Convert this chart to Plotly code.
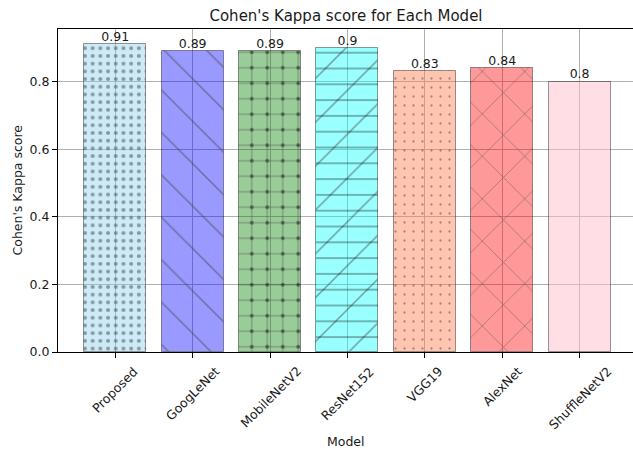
import plotly.graph_objects as go

# Cohen's Kappa score per model
models = ["Proposed", "GoogLeNet", "MobileNetV2", "ResNet152", "VGG19", "AlexNet", "ShuffleNetV2"]
kappa = [0.91, 0.89, 0.89, 0.90, 0.83, 0.84, 0.80]
y_ticks = [0.0, 0.2, 0.4, 0.6, 0.8]

# per-bar fills (semi-transparent) and hatch styles
fill_colors = [
    "rgba(135,206,235,0.42)",
    "rgba(0,0,255,0.40)",
    "rgba(0,128,0,0.40)",
    "rgba(0,255,255,0.40)",
    "rgba(255,127,80,0.45)",
    "rgba(255,0,0,0.40)",
    "rgba(255,192,203,0.50)",
]
hatch_main = [".", "\\", "+", "/", ".", "x", ""]
hatch_main_size = [7.7, 30, 15.5, 31, 9, 30, 8]
hatch_main_solid = [0.22, 0.05, 0.12, 0.05, 0.05, 0.05, 0.1]
hatch_extra = ["", "", ".", "-", "", "", ""]
hatch_extra_size = [8, 8, 15.5, 15.8, 8, 8, 8]
hatch_extra_solid = [0.1, 0.1, 0.045, 0.08, 0.1, 0.1, 0.1]

EDGE = "rgba(0,0,0,0.4)"
HATCH = "rgba(0,0,0,0.5)"
FONT = "DejaVu Sans"
TXT = "#1a1a1a"

fig = go.Figure()

fig.add_trace(go.Bar(
    x=models, y=kappa, width=0.8,
    marker=dict(
        color=fill_colors,
        line=dict(color=EDGE, width=1),
        pattern=dict(
            shape=hatch_main, size=hatch_main_size, solidity=hatch_main_solid,
            fillmode="overlay", fgcolor=HATCH,
        ),
    ),
    hoverinfo="skip",
))

# second hatch layer for the combined hatches
fig.add_trace(go.Bar(
    x=models, y=kappa, width=0.8,
    marker=dict(
        color=["rgba(0,0,0,0.45)" if h else "rgba(0,0,0,0)" for h in hatch_extra],
        line=dict(width=0),
        pattern=dict(
            shape=hatch_extra, size=hatch_extra_size, solidity=hatch_extra_solid,
            fillmode="replace",
        ),
    ),
    hoverinfo="skip",
))

# value labels on top of the bars
fig.add_trace(go.Scatter(
    x=models, y=kappa, mode="text",
    text=[f"{v:g}" for v in kappa],
    textposition="top center",
    textfont=dict(family=FONT, size=12.5, color=TXT),
    cliponaxis=False, hoverinfo="skip",
))

# rotated category labels
for m in models:
    fig.add_annotation(
        x=m, y=0, xref="x", yref="paper",
        text=m, textangle=-45, showarrow=False,
        xanchor="center", yanchor="top", yshift=-9,
        font=dict(family=FONT, size=12.5, color=TXT),
    )

fig.add_annotation(
    x=0.5, y=0, xref="paper", yref="paper", text="Model",
    showarrow=False, xanchor="center", yanchor="middle", yshift=-89,
    font=dict(family=FONT, size=12.5, color=TXT),
)
fig.add_annotation(
    x=0, y=0.5, xref="paper", yref="paper", text="Cohen's Kappa score",
    textangle=-90, showarrow=False, xanchor="center", yanchor="middle", xshift=-41,
    font=dict(family=FONT, size=12.5, color=TXT),
)

fig.update_layout(
    width=633, height=450,
    margin=dict(l=58, r=0, t=29, b=98),
    paper_bgcolor="white", plot_bgcolor="white",
    barmode="overlay", bargap=0, showlegend=False,
    title=dict(
        text="Cohen's Kappa score for Each Model",
        x=(346 / 633), xanchor="center", y=1 - 16 / 450, yanchor="middle",
        font=dict(family=FONT, size=15, color=TXT),
    ),
    font=dict(family=FONT, size=12.5, color=TXT),
)

fig.update_xaxes(
    range=[-0.74, 6.69], showticklabels=False,
    ticks="outside", ticklen=5, tickwidth=1, tickcolor="black",
    showline=True, linecolor="black", linewidth=1, mirror=True,
    showgrid=True, gridcolor="#b0b0b0", gridwidth=1, zeroline=False,
)
fig.update_yaxes(
    range=[0, 0.9555], tickvals=y_ticks, ticktext=[f"{t:.1f}" for t in y_ticks],
    ticks="outside", ticklen=5, tickwidth=1, tickcolor="black",
    showline=True, linecolor="black", linewidth=1,
    showgrid=True, gridcolor="#b0b0b0", gridwidth=1, zeroline=False,
    tickfont=dict(family=FONT, size=12.5, color=TXT),
)

fig.write_html("out.html")
